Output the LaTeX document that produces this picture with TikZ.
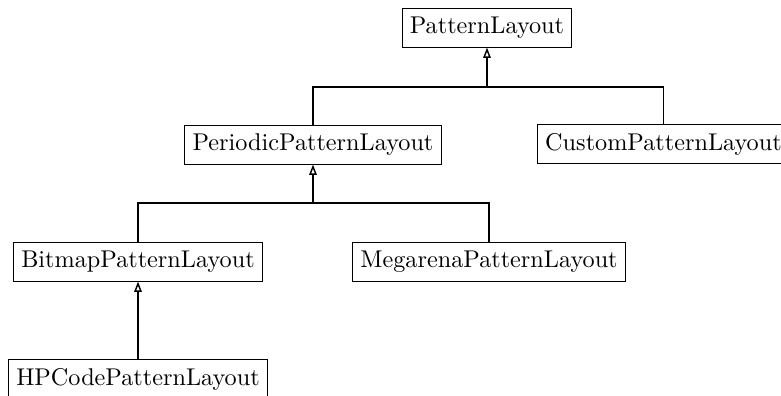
\documentclass[tikz,border=0pt]{standalone}
\usepackage{tikz}
\usetikzlibrary{arrows.meta}

\begin{document}
\begin{tikzpicture}[x=0.4127pt,y=-0.4127pt, cls/.style={draw,line width=0.4pt,minimum height=15.7pt,inner sep=3.2pt}, inh/.style={line width=0.75pt,-{Triangle[open,length=4.3pt,width=3.1pt,line width=0.6pt]}}, link/.style={line width=0.75pt}]
\useasboundingbox (0,0) rectangle (781,396);
\clip (0,0) rectangle (781,396);
\node[cls] (pattern) at (487,28) {PatternLayout};
\node[cls] (periodic) at (313,145) {PeriodicPatternLayout};
\node[cls,anchor=west] (custom) at (537,144) {CustomPatternLayout};
\node[cls] (bitmap) at (138,262) {BitmapPatternLayout};
\node[cls] (megarena) at (489,262) {MegarenaPatternLayout};
\node[cls] (hpcode) at (138,379) {HPCodePatternLayout};
\coordinate (top) at (487,87);
\coordinate (mid) at (313,203);
\draw[inh] (top) -- (pattern.south);
\draw[link] (periodic.north) |- (top) -| (custom.north);
\draw[inh] (mid) -- (periodic.south);
\draw[link] (bitmap.north) |- (mid) -| (megarena.north);
\draw[inh] (hpcode.north) -- (bitmap.south);
\end{tikzpicture}
\end{document}
